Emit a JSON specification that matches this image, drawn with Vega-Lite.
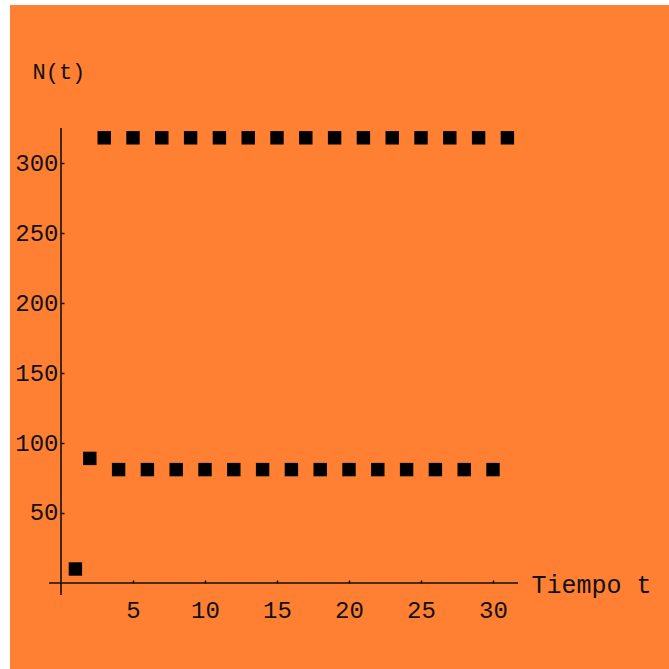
{
  "$schema": "https://vega.github.io/schema/vega-lite/v6.json",
  "autosize": {"type": "none"},
  "width": 659,
  "height": 664,
  "padding": {"left": 10, "top": 5, "right": 0, "bottom": 0},
  "background": "white",
  "config": {
    "view": {"fill": "#FF8033", "stroke": null},
    "axis": {
      "grid": false,
      "domain": false,
      "tickColor": "#111111",
      "tickWidth": 1.5,
      "tickSize": -3,
      "labelFont": "Liberation Mono",
      "labelFontSize": 24,
      "labelColor": "#111111",
      "titleFont": "Liberation Mono",
      "titleFontSize": 22,
      "titleFontWeight": "normal",
      "titleColor": "#111111"
    }
  },
  "datasets": {
    "poblacion": [
      {"t": 1, "N": 10}, {"t": 2, "N": 89}, {"t": 3, "N": 318}, {"t": 4, "N": 81},
      {"t": 5, "N": 318}, {"t": 6, "N": 81}, {"t": 7, "N": 318}, {"t": 8, "N": 81},
      {"t": 9, "N": 318}, {"t": 10, "N": 81}, {"t": 11, "N": 318}, {"t": 12, "N": 81},
      {"t": 13, "N": 318}, {"t": 14, "N": 81}, {"t": 15, "N": 318}, {"t": 16, "N": 81},
      {"t": 17, "N": 318}, {"t": 18, "N": 81}, {"t": 19, "N": 318}, {"t": 20, "N": 81},
      {"t": 21, "N": 318}, {"t": 22, "N": 81}, {"t": 23, "N": 318}, {"t": 24, "N": 81},
      {"t": 25, "N": 318}, {"t": 26, "N": 81}, {"t": 27, "N": 318}, {"t": 28, "N": 81},
      {"t": 29, "N": 318}, {"t": 30, "N": 81}, {"t": 31, "N": 318}
    ],
    "ejes": [
      {"t": -0.83, "t2": 31.74, "N": 0, "N2": 0},
      {"t": 0, "t2": 0, "N": -8.6, "N2": 325}
    ]
  },
  "layer": [
    {
      "data": {"name": "ejes"},
      "mark": {"type": "rule", "color": "#111111", "strokeWidth": 1.6},
      "encoding": {
        "x": {"field": "t", "type": "quantitative"},
        "x2": {"field": "t2"},
        "y": {"field": "N", "type": "quantitative"},
        "y2": {"field": "N2"}
      }
    },
    {
      "data": {"name": "poblacion"},
      "mark": {"type": "point", "shape": "square", "filled": true, "color": "#000000", "size": 180, "opacity": 1},
      "encoding": {
        "x": {
          "field": "t",
          "type": "quantitative",
          "scale": {"domain": [-3.542, 42.222], "nice": false, "zero": false},
          "axis": {
            "orient": "bottom",
            "offset": -86,
            "values": [5, 10, 15, 20, 25, 30],
            "labelPadding": 18,
            "labelBaseline": "top",
            "title": "Tiempo t",
            "titleFontSize": 25,
            "titleAngle": 0,
            "titleAlign": "left",
            "titleBaseline": "middle",
            "titleX": 521,
            "titleY": 1
          }
        },
        "y": {
          "field": "N",
          "type": "quantitative",
          "scale": {"domain": [-61.43, 412.86], "nice": false, "zero": false},
          "axis": {
            "orient": "left",
            "offset": -51,
            "values": [50, 100, 150, 200, 250, 300],
            "labelPadding": 6,
            "labelAlign": "right",
            "labelBaseline": "middle",
            "title": "N(t)",
            "titleAngle": 0,
            "titleAlign": "left",
            "titleBaseline": "middle",
            "titleX": -29,
            "titleY": 66
          }
        }
      }
    }
  ]
}
